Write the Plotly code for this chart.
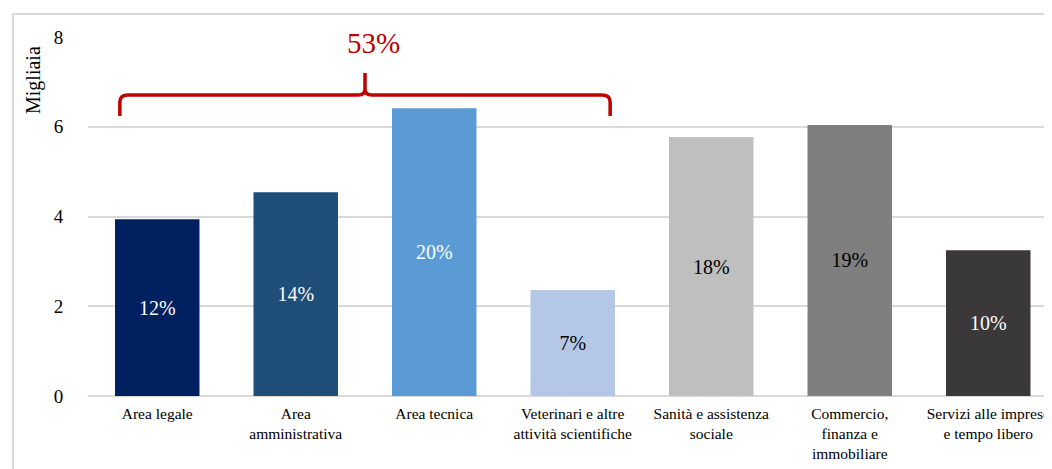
import plotly.graph_objects as go

categories = [
    "Area legale",
    "Area<br>amministrativa",
    "Area tecnica",
    "Veterinari e altre<br>attività scientifiche",
    "Sanità e assistenza<br>sociale",
    "Commercio,<br>finanza e<br>immobiliare",
    "Servizi alle imprese<br>e tempo libero",
]
values = [3.94, 4.54, 6.41, 2.36, 5.77, 6.04, 3.25]
shares = ["12%", "14%", "20%", "7%", "18%", "19%", "10%"]
colors = ["#002060", "#1F4E79", "#5B9BD5", "#B4C7E7", "#BFBFBF", "#7F7F7F", "#3A3838"]
label_colors = ["white", "white", "white", "black", "black", "black", "white"]
group_share = "53%"
group_idx = [0, 1, 2, 3]
y_ticks = [0, 2, 4, 6, 8]

FONT = "Liberation Serif"
OFF = 8  # default page body margin
W, H = 1052 - OFF, 469 - OFF
L, R, T = 88 - OFF, 0, 37 - OFF
pw = W - L - R
ph = 359
B = H - T - ph

def px_x(p):
    return (p - OFF - L) / pw

def px_y(p):
    return (T + ph - (p - OFF)) / ph

x_idx = list(range(len(categories)))
fig = go.Figure()
fig.add_trace(go.Bar(
    x=x_idx, y=values, marker=dict(color=colors, line=dict(width=0)),
    text=shares, textposition="inside", insidetextanchor="middle", textangle=0,
    textfont=dict(family=FONT, size=20, color=label_colors),
    constraintext="none", hoverinfo="skip", width=0.61,
))

# brace over the first group
half = 0.61 / 2
x0 = group_idx[0] - half + 0.035
x1 = group_idx[-1] + half - 0.035
xc = (x0 + x1) / 2
yt = 6.71
yb = 6.24
ytop = 7.20
rx, ry = 0.06, 0.16
cx, cy = 0.05, 0.12
path = (
    f"M {x0},{yb} L {x0},{yt - ry} Q {x0},{yt} {x0 + rx},{yt} "
    f"L {xc - cx},{yt} Q {xc},{yt} {xc},{yt + cy} L {xc},{ytop} "
    f"M {xc},{yt + cy} Q {xc},{yt} {xc + cx},{yt} "
    f"L {x1 - rx},{yt} Q {x1},{yt} {x1},{yt - ry} L {x1},{yb}"
)
fig.add_shape(type="path", path=path, xref="x", yref="y",
              line=dict(color="#C00000", width=3.5))
fig.add_annotation(x=xc + 0.06, y=7.87, xref="x", yref="y", text=group_share,
                   showarrow=False, font=dict(family=FONT, size=29, color="#C00000"))

# y axis title (top aligned)
fig.add_annotation(xref="paper", yref="paper", x=px_x(34), y=px_y(80),
                   text="Migliaia", textangle=-90, showarrow=False,
                   xanchor="center", yanchor="middle",
                   font=dict(family=FONT, size=20, color="black"))

# chart frame
fig.add_shape(type="rect", xref="paper", yref="paper",
              x0=px_x(13), x1=px_x(1100),
              y0=px_y(520), y1=px_y(14),
              line=dict(color="#D9D9D9", width=2), layer="below")

fig.update_layout(
    width=W, height=H,
    margin=dict(l=L, r=R, t=T, b=B, pad=0, autoexpand=False),
    paper_bgcolor="white", plot_bgcolor="white",
    showlegend=False, bargap=0.39,
    font=dict(family=FONT, color="black"),
    xaxis=dict(
        tickmode="array", tickvals=x_idx, ticktext=categories,
        range=[-0.5, -0.5 + pw / 138.5],
        tickfont=dict(family=FONT, size=15.5, color="black"),
        showgrid=False, zeroline=False, showline=False,
        ticks="outside", ticklen=3, tickcolor="rgba(0,0,0,0)",
        automargin=False,
    ),
    yaxis=dict(
        range=[0, 8], tickmode="array", tickvals=y_ticks,
        tickfont=dict(family=FONT, size=19, color="black"),
        showgrid=True, gridcolor="#D9D9D9", gridwidth=1.5,
        zeroline=True, zerolinecolor="#D9D9D9", zerolinewidth=2,
        ticks="outside", ticklen=20, tickcolor="rgba(0,0,0,0)",
        showline=False, automargin=False,
    ),
)

fig.write_html("out.html")
